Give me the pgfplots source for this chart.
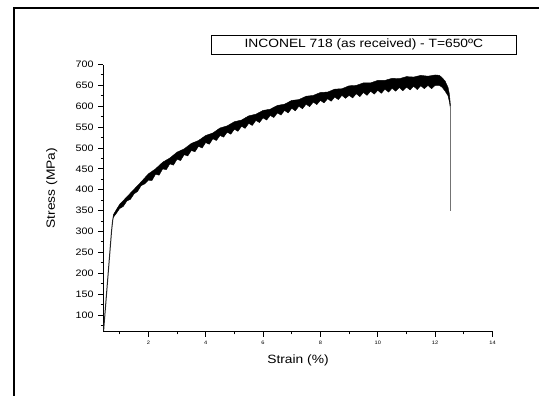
\documentclass[border=0pt]{standalone}
\usepackage{pgfplots}
\pgfplotsset{compat=1.18}
\usepackage{fontspec}
\setmainfont[FakeStretch=1.15]{Liberation Sans}

\begin{document}
\begin{tikzpicture}
\path[use as bounding box] (0,0) rectangle (404.25pt,297pt);
% page frame (left and top edges)
\draw[line width=1.5pt, line join=miter] (10.5pt,-2pt) -- (10.5pt,291.2pt) -- (406pt,291.2pt);

\begin{axis}[
  at={(77.475pt,48.225pt)}, anchor=south west,
  scale only axis, width=291.9pt, height=200.4pt,
  xmin=0.43, xmax=14, ymin=60, ymax=700,
  axis x line=bottom, axis y line=left,
  axis line style={-, line width=0.9pt},
  xtick={2,4,...,14}, minor xtick={1,3,...,13},
  ytick={100,150,...,700}, minor ytick={75,125,...,675},
  tick align=outside,
  major tick length=3.75pt, minor tick length=2pt,
  every tick/.style={black, line width=0.7pt},
  /pgf/number format/assume math mode=true,
  scaled ticks=false,
  yticklabel style={font=\fontsize{7}{8}\selectfont},
  xticklabel style={font=\fontsize{3.7}{4}\selectfont},
]
% elastic loading
\addplot[black!85, line width=0.75pt] coordinates {
  (0.44,62) (0.72,303) (0.76,328) (0.79,338) (0.9,350)
};
% plastic region: upper edge of the serrated signal, then lower edge back
\addplot[fill=black, draw=black, line width=0.3pt] coordinates {
  (0.78,340) (0.9,354) (1.0,365) (1.25,383) (1.5,401) (1.75,419)
  (2.0,438) (2.25,450) (2.5,466) (2.75,476) (3.0,490) (3.25,498)
  (3.5,511) (3.75,518) (4.0,530) (4.25,536) (4.5,548) (4.75,553)
  (5.0,563) (5.25,567) (5.5,577) (5.75,581) (6.0,590) (6.25,593)
  (6.5,602) (6.75,605) (7.0,614) (7.25,616) (7.5,624) (7.75,626)
  (8.0,633) (8.25,634) (8.5,641) (8.75,642) (9.0,649) (9.25,650)
  (9.5,656) (9.75,656) (10.0,662) (10.25,662) (10.5,667) (10.75,666)
  (11.0,671) (11.25,670) (11.5,674) (11.75,672) (12.0,675)
  (12.15,674) (12.25,668) (12.35,660) (12.45,645) (12.5,628) (12.53,605)
  %
  (12.53,595) (12.5,610) (12.45,625) (12.35,636) (12.25,645) (12.15,650)
  (12.0,650) (11.875,642) (11.75,650) (11.625,642) (11.5,649)
  (11.375,640) (11.25,648) (11.125,639) (11.0,646) (10.875,637)
  (10.75,645) (10.625,636) (10.5,643) (10.375,634) (10.25,641)
  (10.125,631) (10.0,638) (9.875,629) (9.75,636) (9.625,626)
  (9.5,633) (9.375,623) (9.25,630) (9.125,620) (9.0,626)
  (8.875,619) (8.75,626) (8.625,616) (8.5,622) (8.375,612)
  (8.25,618) (8.125,608) (8.0,614) (7.875,604) (7.75,610)
  (7.625,599) (7.5,605) (7.375,594) (7.25,600) (7.125,589)
  (7.0,595) (6.875,584) (6.75,590) (6.625,579) (6.5,584)
  (6.375,573) (6.25,578) (6.125,567) (6.0,572) (5.875,561)
  (5.75,566) (5.625,554) (5.5,559) (5.375,547) (5.25,552)
  (5.125,540) (5.0,545) (4.875,533) (4.75,538) (4.625,526)
  (4.5,530) (4.375,518) (4.25,522) (4.125,509) (4.0,513)
  (3.875,500) (3.75,504) (3.625,491) (3.5,494) (3.375,481)
  (3.25,484) (3.125,470) (3.0,473) (2.875,459) (2.75,462)
  (2.625,448) (2.5,450) (2.375,435) (2.25,437) (2.125,422)
  (2.0,423) (1.875,414) (1.75,410) (1.625,396) (1.5,390)
  (1.375,377) (1.25,373) (1.125,360) (1.0,355) (0.9,345) (0.78,334)
};
% fracture
\addplot[black!55, line width=0.75pt] coordinates {
  (12.53,600) (12.53,348)
};
\end{axis}

\node[draw, line width=0.6pt, minimum width=229.25pt, minimum height=14.25pt,
      inner sep=0pt, font=\fontsize{9}{10}\selectfont]
  at (272.9pt,263.6pt) {INCONEL 718 (as received) - T=650ºC};
\node[font=\fontsize{9}{10}\selectfont] at (223.5pt,27pt) {Strain (\%)};
\node[font=\fontsize{9}{10}\selectfont, rotate=90] at (38.8pt,155.8pt) {Stress (MPa)};
\end{tikzpicture}
\end{document}
